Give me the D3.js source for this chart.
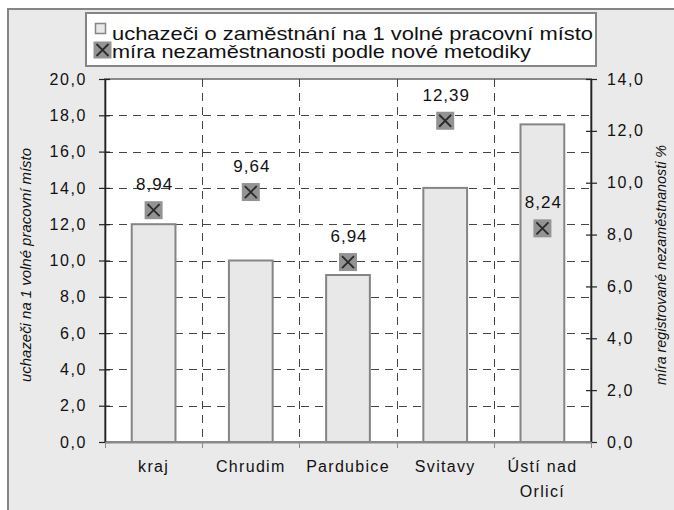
<!DOCTYPE html>
<html><head><meta charset="utf-8">
<script src="https://cdn.jsdelivr.net/npm/d3@7"></script>
<style>
body{margin:0;background:#fff;}
svg{display:block;font-family:"Liberation Sans",Arial,sans-serif;}
</style></head><body>
<svg id="c" width="674" height="510"></svg>
<script>
const categories = ["kraj", "Chrudim", "Pardubice", "Svitavy", "Ústí nad Orlicí"];
const applicantsPerVacancy = [12.0, 10.0, 9.2, 14.0, 17.5];
const unemploymentRate = [8.94, 9.64, 6.94, 12.39, 8.24];
const leftTicks = [0, 2, 4, 6, 8, 10, 12, 14, 16, 18, 20];
const rightTicks = [0, 2, 4, 6, 8, 10, 12, 14];
const legendLabels = ["uchazeči o zaměstnání na 1 volné pracovní místo", "míra nezaměstnanosti podle nové metodiky"];
const leftTitle = "uchazeči na 1 volné pracovní místo";
const rightTitle = "míra registrované nezaměstnanosti %";

const svg = d3.select("#c");
const fmt = v => d3.format(".1f")(v).replace(".", ",");
const fmt2 = v => d3.format(".2f")(v).replace(".", ",");

// outer frame
svg.append("rect").attr("x", 8).attr("y", 9).attr("width", 680).attr("height", 520)
  .attr("fill", "#eaeaea").attr("stroke", "#858585").attr("stroke-width", 2);

const L = 105, R = 591, T = 79, B = 442;
const x = d3.scaleBand().domain(categories).range([L, R]).paddingInner(0).paddingOuter(0);
const yL = d3.scaleLinear().domain([0, 20]).range([B, T]);
const yR = d3.scaleLinear().domain([0, 14]).range([B, T]);

// plot area
svg.append("rect").attr("x", L).attr("y", T).attr("width", R - L).attr("height", B - T)
  .attr("fill", "#fff").attr("stroke", "#8a8a8a").attr("stroke-width", 2);

// gridlines
const grid = svg.append("g").attr("stroke", "#444").attr("stroke-width", 1).attr("stroke-dasharray", "8,6");
grid.selectAll("line.h").data(leftTicks.filter(t => t > 0 && t < 20)).join("line")
  .attr("x1", L).attr("x2", R).attr("y1", d => Math.round(yL(d)) + 0.5).attr("y2", d => Math.round(yL(d)) + 0.5);
grid.selectAll("line.v").data(categories.slice(1)).join("line")
  .attr("x1", d => Math.round(x(d)) + 0.5).attr("x2", d => Math.round(x(d)) + 0.5).attr("y1", T).attr("y2", B);

// bars
const bw = x.bandwidth() * 0.45;
svg.append("g").selectAll("rect").data(categories).join("rect")
  .attr("x", (d) => x(d) + x.bandwidth() / 2 - bw / 2)
  .attr("y", (d, i) => yL(applicantsPerVacancy[i]))
  .attr("width", bw)
  .attr("height", (d, i) => B - yL(applicantsPerVacancy[i]))
  .attr("fill", "#e8e8e8").attr("stroke", "#858585").attr("stroke-width", 2);

// axes
const axL = d3.axisLeft(yL).tickValues(leftTicks).tickFormat(fmt).tickSizeInner(6).tickSizeOuter(0).tickPadding(12);
const axR = d3.axisRight(yR).tickValues(rightTicks).tickFormat(fmt).tickSizeInner(6).tickSizeOuter(0).tickPadding(10);
const gL = svg.append("g").attr("transform", `translate(${L},0)`).call(axL);
const gR = svg.append("g").attr("transform", `translate(${R},0)`).call(axR);
[gL, gR].forEach(g => {
  g.select(".domain").attr("stroke", "#222").attr("stroke-width", 1.6);
  g.selectAll(".tick line").attr("stroke", "#222").attr("stroke-width", 1.2);
  g.selectAll(".tick text").attr("font-size", 16).attr("fill", "#111").attr("letter-spacing", "1.6px")
    .attr("font-family", "'Liberation Sans',Arial,sans-serif");
});
gL.selectAll(".tick line").attr("x1", 5);
gR.selectAll(".tick line").attr("x1", -5);

// bottom axis
const axB = d3.axisBottom(x).tickSize(0).tickFormat("");
const gB = svg.append("g").attr("transform", `translate(0,${B})`).call(axB);
gB.select(".domain").attr("stroke", "#8a8a8a").attr("stroke-width", 2);
const boundaries = categories.map(c => x(c)).concat([R]);
svg.append("g").selectAll("line").data(boundaries).join("line")
  .attr("x1", d => Math.round(d) + 0.5).attr("x2", d => Math.round(d) + 0.5)
  .attr("y1", B).attr("y2", B + 6).attr("stroke", "#8a8a8a").attr("stroke-width", 1);

// category labels
const catG = svg.append("g").attr("font-size", 16).attr("fill", "#111").attr("text-anchor", "middle").attr("letter-spacing", "1.3px");
categories.forEach(c => {
  const words = c === "Ústí nad Orlicí" ? ["Ústí nad", "Orlicí"] : [c];
  const t = catG.append("text").attr("x", x(c) + x.bandwidth() / 2).attr("y", 472);
  words.forEach((w, i) => t.append("tspan").attr("x", x(c) + x.bandwidth() / 2).attr("dy", i ? 25 : 0).text(w));
});

// markers
function xMarker(g, cx, cy, w, h) {
  g.append("rect").attr("x", cx - w / 2).attr("y", cy - h / 2).attr("width", w).attr("height", h).attr("fill", "#939393");
  const s = 6;
  g.append("path").attr("d", `M${cx - s},${cy - s}L${cx + s},${cy + s}M${cx + s},${cy - s}L${cx - s},${cy + s}`)
    .attr("stroke", "#2a2a2a").attr("stroke-width", 1.8).attr("fill", "none");
}
const mk = svg.append("g");
categories.forEach((c, i) => {
  const cx = x(c) + x.bandwidth() / 2, cy = yR(unemploymentRate[i]);
  xMarker(mk, cx, cy, 18, 18);
  mk.append("text").attr("x", cx + 1).attr("y", cy - 20).attr("text-anchor", "middle")
    .attr("font-size", 17).attr("letter-spacing", "1px").attr("fill", "#111").text(fmt2(unemploymentRate[i]));
});

// axis titles
svg.append("text").attr("transform", `translate(31,265) rotate(-90)`).attr("text-anchor", "middle")
  .attr("font-size", 14).attr("font-style", "italic").attr("fill", "#111")
  .attr("textLength", 234).attr("lengthAdjust", "spacingAndGlyphs").text(leftTitle);
svg.append("text").attr("transform", `translate(666,265) rotate(-90)`).attr("text-anchor", "middle")
  .attr("font-size", 14).attr("font-style", "italic").attr("fill", "#111")
  .attr("textLength", 240).attr("lengthAdjust", "spacingAndGlyphs").text(rightTitle);

// legend
const lg = svg.append("g");
lg.append("rect").attr("x", 86).attr("y", 13).attr("width", 510).attr("height", 53)
  .attr("fill", "#fff").attr("stroke", "#858585").attr("stroke-width", 2);
lg.append("rect").attr("x", 95.5).attr("y", 23.5).attr("width", 10).attr("height", 10)
  .attr("fill", "#e8e8e8").attr("stroke", "#858585").attr("stroke-width", 1.5);
xMarker(lg, 102.5, 50, 18, 17);
lg.append("text").attr("x", 112).attr("y", 40).attr("font-size", 18.5).attr("fill", "#111")
  .attr("textLength", 481).attr("lengthAdjust", "spacingAndGlyphs").text(legendLabels[0]);
lg.append("text").attr("x", 112).attr("y", 58).attr("font-size", 18.5).attr("fill", "#111")
  .attr("textLength", 419).attr("lengthAdjust", "spacingAndGlyphs").text(legendLabels[1]);
</script>
</body></html>
